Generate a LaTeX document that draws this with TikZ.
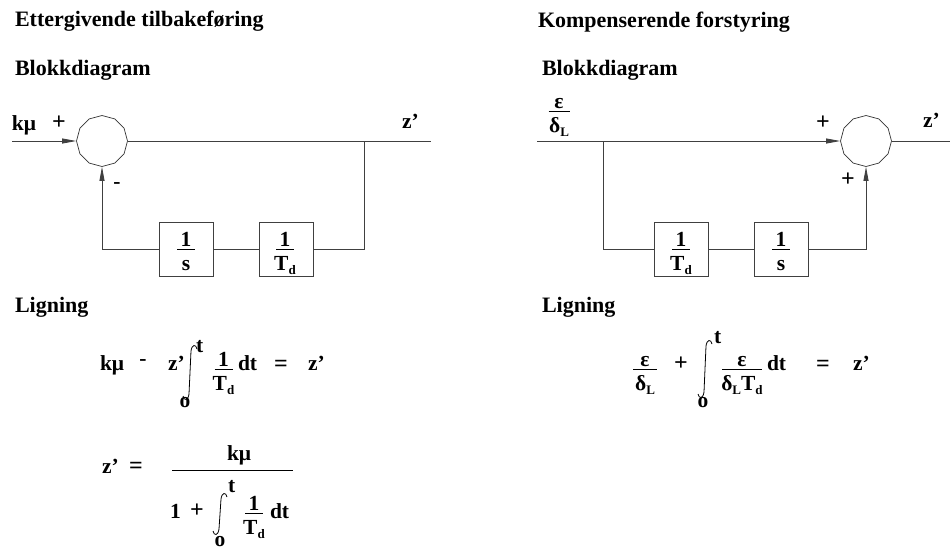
\documentclass[tikz,border=0pt]{standalone}
\usepackage{fontspec}
\setmainfont{Liberation Serif}
\usetikzlibrary{arrows.meta,shapes.geometric}
\newcommand{\sbs}[1]{\raisebox{-4pt}{\fontsize{13}{14}\selectfont #1}}
% name, cx, bar y, half width, numerator, denominator
\newcommand{\mkfrac}[6]{%
  \node[txt,anchor=base] (#1n) at (#2,#3-3) {#5};
  \node[txt,anchor=base] (#1d) at (#2,#3+21) {#6};
  \draw[fbar] (#2-#4,#3) -- (#2+#4,#3);}
% integral sign: cx, top y, bottom y
\newcommand{\intg}[3]{%
  \draw[intl] (#1-7,#3-4) .. controls (#1-6,#3+1) and (#1-2,#3+1) .. (#1-1,#3-6)
    -- (#1+1,#2+6) .. controls (#1+2,#2-1) and (#1+6,#2-1) .. (#1+7,#2+4);}
\begin{document}
\begin{tikzpicture}[x=1pt,y=-1pt,
  txt/.style={font=\bfseries\fontsize{21.5}{24}\selectfont,inner sep=0pt,outer sep=0pt},
  ttl/.style={font=\bfseries\fontsize{22}{24}\selectfont,inner sep=0pt,outer sep=0pt},
  sgn/.style={font=\bfseries\fontsize{24}{26}\selectfont,inner sep=0pt},
  wire/.style={draw=black!75,line width=0.8pt},
  arr/.style={wire,-{Triangle[length=14pt,width=5pt]}},
  blk/.style={draw=black!75,line width=0.8pt,minimum width=54pt,minimum height=54pt,inner sep=0pt},
  sumj/.style={draw=black!80,line width=0.7pt,regular polygon,regular polygon sides=12,
    shape border rotate=15,minimum size=51pt,inner sep=0pt},
  fbar/.style={draw=black,line width=0.8pt},
  intl/.style={draw=black,line width=0.8pt}]
\fill[white] (0,0) rectangle (950,550);
\useasboundingbox (0,0) rectangle (950,550);

% headings
\node[ttl,anchor=base west] (t1) at (15,26) {Ettergivende tilbakeføring};
\node[ttl,anchor=base west] (b1) at (15,75) {Blokkdiagram};
\node[ttl,anchor=base west] (t2) at (538,27) {Kompenserende forstyring};
\node[ttl,anchor=base west] (b2) at (542,75) {Blokkdiagram};
\node[ttl,anchor=base west] (l1) at (15,312) {Ligning};
\node[ttl,anchor=base west] (l2) at (542,312) {Ligning};

% ---------- left block diagram ----------
\coordinate (in1) at (12,141);
\coordinate (out1) at (431,141);
\coordinate (j1) at (364,141);
\node[sumj] (sum1) at (102,141) {};
\node[blk] (box1) at (186.5,249) {};
\node[blk] (box2) at (286,249) {};
\draw[arr] (in1) -- (sum1.west);
\draw[wire] (sum1.east) -- (out1);
\draw[wire] (j1) |- (box2.east);
\draw[wire] (box2.west) -- (box1.east);
\draw[arr] (box1.west) -| (sum1.south);
\mkfrac{f1}{186}{249}{9}{1}{s}
\mkfrac{f2}{285}{249}{9}{1}{T\sbs{d}}
\node[txt,anchor=base west] (kmu) at (12,130) {kμ};
\node[sgn] (p1) at (59,123) {+};
\node[txt] (m1) at (117,186) {-};
\node[txt,anchor=base west] (z1) at (402,128) {z'};

% ---------- right block diagram ----------
\coordinate (in2) at (537,141);
\coordinate (out2) at (950,141);
\coordinate (j2) at (603,141);
\node[sumj] (sum2) at (866,141) {};
\node[blk] (box3) at (681.5,249) {};
\node[blk] (box4) at (781,249) {};
\draw[arr] (in2) -- (sum2.west);
\draw[wire] (sum2.east) -- (out2);
\draw[wire] (j2) |- (box3.west);
\draw[wire] (box3.east) -- (box4.west);
\draw[arr] (box4.east) -| (sum2.south);
\mkfrac{f3}{681}{249}{9}{1}{T\sbs{d}}
\mkfrac{f4}{781}{249}{9}{1}{s}
\mkfrac{inl}{559}{111}{10.5}{ε}{δ\sbs{L}}
\node[sgn] (p2) at (823,123) {+};
\node[sgn] (p3) at (848,180) {+};
\node[txt,anchor=base west] (z2) at (923,127) {z'};

% ---------- left equation 1 ----------
\node[txt,anchor=base west] (e1a) at (100,370) {kμ};
\node[txt] (e1b) at (143,363) {-};
\node[txt,anchor=base west] (e1c) at (168,370) {z'};
\intg{190}{345}{400}
\node[txt,anchor=base west] (e1t) at (196,352) {t};
\node[txt] (e1o) at (185,403) {o};
\mkfrac{e1f}{223.5}{369}{9}{1}{T\sbs{d}}
\node[txt,anchor=base west] (e1d) at (238,370) {dt};
\node[sgn] (e1e) at (281,366) {=};
\node[txt,anchor=base west] (e1z) at (308,370) {z'};

% ---------- left equation 2 ----------
\node[txt,anchor=base west] (e2z) at (102,473) {z'};
\node[sgn] (e2e) at (136,468) {=};
\draw[fbar] (172,470) -- (293,470);
\node[txt,anchor=base west] (e2n) at (227,460) {kμ};
\node[txt,anchor=base west] (e2one) at (170,518) {1};
\node[sgn] (e2p) at (197,511) {+};
\intg{220}{493}{535}
\node[txt,anchor=base west] (e2t) at (228,492) {t};
\node[txt] (e2o) at (220,542) {o};
\mkfrac{e2f}{254}{513}{9}{1}{T\sbs{d}}
\node[txt,anchor=base west] (e2d) at (270,518) {dt};

% ---------- right equation ----------
\mkfrac{e3f}{645}{369}{12}{ε}{δ\sbs{L}}
\node[sgn] (e3p) at (681,364) {+};
\intg{705}{340}{398}
\node[txt,anchor=base west] (e3t) at (714,343) {t};
\node[txt] (e3o) at (703,403) {o};
\mkfrac{e3g}{742}{369}{20}{ε}{δ\sbs{L}T\sbs{d}}
\node[txt,anchor=base west] (e3d) at (767,370) {dt};
\node[sgn] (e3e) at (823,366) {=};
\node[txt,anchor=base west] (e3z) at (853,370) {z'};
\end{tikzpicture}
\end{document}
